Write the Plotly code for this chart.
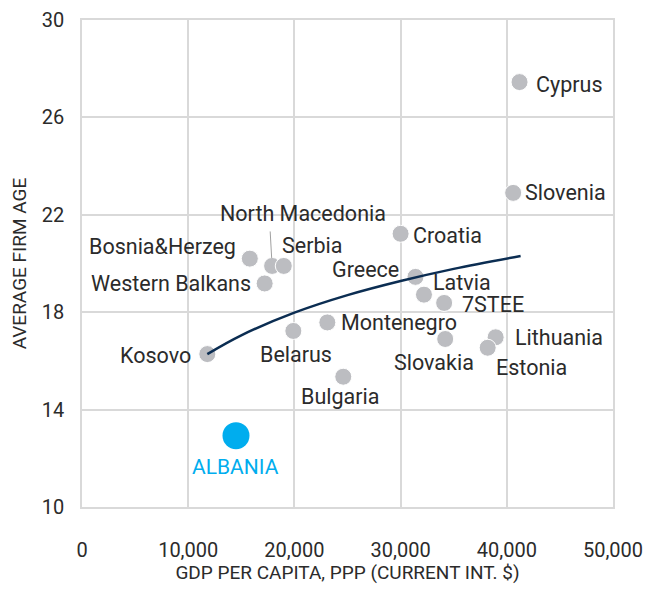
import plotly.graph_objects as go

# Data
countries = ["Cyprus", "Slovenia", "Croatia", "Greece", "Latvia", "7STEE", "Montenegro",
             "Slovakia", "Lithuania", "Estonia", "Bulgaria", "Belarus", "Kosovo",
             "Western Balkans", "Bosnia&Herzeg", "North Macedonia", "Serbia"]
gdp = [41200, 40600, 30000, 31400, 32200, 34100, 23100,
       34200, 38950, 38200, 24600, 19900, 11800,
       17200, 15800, 17900, 19000]
firm_age = [27.45, 22.9, 21.22, 19.45, 18.72, 18.38, 17.58,
            16.9, 16.97, 16.54, 15.35, 17.23, 16.28,
            19.18, 20.2, 19.9, 19.9]

albania_gdp = [14500]
albania_age = [12.93]

trend_x = [11800, 15000, 20000, 25000, 30000, 35000, 41300]
trend_y = [16.28, 17.05, 17.98, 18.70, 19.28, 19.78, 20.31]

x_ticks = [0, 10000, 20000, 30000, 40000, 50000]
x_tick_labels = ["0", "10,000", "20,000", "30,000", "40,000", "50,000"]
y_ticks = [10, 14, 18, 22, 26, 30]

FONT = "Roboto, sans-serif"
TXT = "#2b2b2b"

fig = go.Figure()
fig.add_trace(go.Scatter(x=gdp, y=firm_age, mode="markers",
                         marker=dict(size=17, color="#bcbdc1", line=dict(color="white", width=1)),
                         hoverinfo="text", text=countries, showlegend=False))
fig.add_trace(go.Scatter(x=trend_x, y=trend_y, mode="lines",
                         line=dict(color="#0b2d52", width=2.5, shape="spline"),
                         hoverinfo="skip", showlegend=False))
fig.add_trace(go.Scatter(x=albania_gdp, y=albania_age, mode="markers",
                         marker=dict(size=27, color="#00adee"),
                         hoverinfo="text", text=["ALBANIA"], showlegend=False))

# label placement: (xanchor, yanchor, xshift, yshift)
place = {
    "Cyprus": ("left", "middle", 14, -2),
    "Slovenia": ("left", "middle", 10, 0),
    "Croatia": ("left", "middle", 10, -2),
    "Greece": ("right", "middle", -14, 7),
    "Latvia": ("left", "middle", 7, 12),
    "7STEE": ("left", "middle", 16, -2),
    "Montenegro": ("left", "middle", 12, 0),
    "Slovakia": ("center", "middle", -11, -24),
    "Lithuania": ("left", "middle", 17, 0),
    "Estonia": ("left", "middle", 6, -20),
    "Bulgaria": ("center", "middle", -3, -20),
    "Belarus": ("center", "middle", 3, -24),
    "Kosovo": ("right", "middle", -14, -1),
    "Western Balkans": ("right", "middle", -12, 0),
    "Bosnia&Herzeg": ("right", "middle", -12, 12),
    "North Macedonia": ("center", "middle", 31, 52),
    "Serbia": ("left", "middle", -4, 20),
}
for c, xv, yv in zip(countries, gdp, firm_age):
    xa, ya, xs, ys = place[c]
    fig.add_annotation(x=xv, y=yv, text=c, showarrow=False, xanchor=xa, yanchor=ya,
                       xshift=xs, yshift=ys, font=dict(family=FONT, size=21.5, color=TXT))

# leader line for North Macedonia
fig.add_annotation(x=gdp[15], y=firm_age[15], text="", showarrow=True, arrowhead=0,
                   arrowwidth=1, arrowcolor="#a0a0a0", ax=-2, ay=-36, standoff=8)

fig.add_annotation(x=albania_gdp[0], y=albania_age[0], text="ALBANIA", showarrow=False,
                   xanchor="center", yanchor="middle", yshift=-31,
                   font=dict(family=FONT, size=21, color="#00adee"))

# page body has an 8px margin, so the figure is sized/offset to compensate
fig.update_layout(
    width=639, height=576,
    margin=dict(l=74, r=34, t=12, b=77, autoexpand=False),
    paper_bgcolor="white", plot_bgcolor="white",
    font=dict(family=FONT, size=20, color=TXT),
    xaxis=dict(range=[0, 50000], tickvals=x_ticks, ticktext=x_tick_labels,
               showgrid=True, gridcolor="#d9d9d9", gridwidth=1.5, zeroline=False,
               showline=True, linecolor="#d9d9d9", linewidth=1.5, mirror=True,
               ticks="", ticklabelstandoff=24, automargin=False,
               title=dict(text="GDP PER CAPITA, PPP (CURRENT INT. $)", standoff=14,
                          font=dict(size=19))),
    yaxis=dict(range=[10, 30], tickvals=y_ticks,
               showgrid=True, gridcolor="#d9d9d9", gridwidth=1.5, zeroline=False,
               showline=True, linecolor="#d9d9d9", linewidth=1.5, mirror=True,
               ticks="", ticklabelstandoff=12, automargin=False,
               title=dict(text="AVERAGE FIRM AGE", standoff=14, font=dict(size=19))),
)

fig.write_html("out.html")
